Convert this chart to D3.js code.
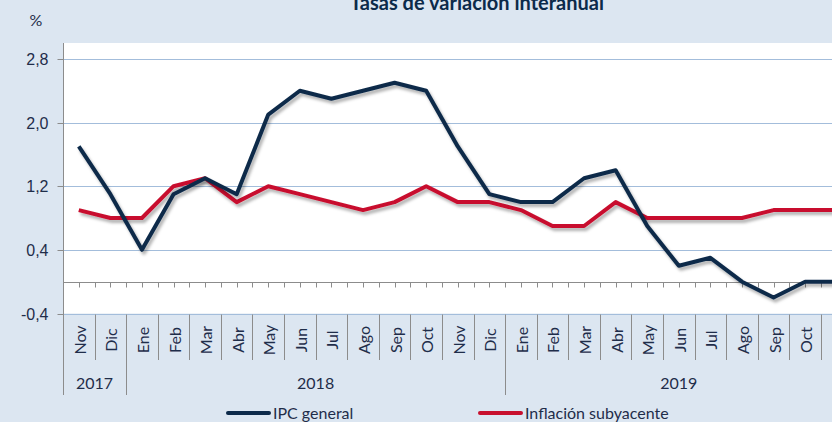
<!DOCTYPE html>
<html>
<head>
<meta charset="utf-8">
<script src="https://cdn.jsdelivr.net/npm/d3@7"></script>
<style>
  body { margin: 0; background: #dce6f1; }
  svg { display: block; font-family: Lato, "Open Sans", sans-serif; }
</style>
</head>
<body>
<div id="chart"></div>
<script>
// months Nov 2017 .. Nov 2019
const months = ['Nov','Dic','Ene','Feb','Mar','Abr','May','Jun','Jul','Ago','Sep','Oct','Nov','Dic',
  'Ene','Feb','Mar','Abr','May','Jun','Jul','Ago','Sep','Oct','Nov'];
const years = [{ label: '2017', n: 2 }, { label: '2018', n: 12 }, { label: '2019', n: 11 }];
const ipc = [1.7, 1.1, 0.4, 1.1, 1.3, 1.1, 2.1, 2.4, 2.3, 2.4, 2.5, 2.4, 1.7, 1.1,
  1.0, 1.0, 1.3, 1.4, 0.7, 0.2, 0.3, 0.0, -0.2, 0.0, 0.0];
const subyacente = [0.9, 0.8, 0.8, 1.2, 1.3, 1.0, 1.2, 1.1, 1.0, 0.9, 1.0, 1.2, 1.0, 1.0,
  0.9, 0.7, 0.7, 1.0, 0.8, 0.8, 0.8, 0.8, 0.9, 0.9, 0.9];
const yTicks = [-0.4, 0.4, 1.2, 2.0, 2.8];

const width = 832, height = 422;
const plotLeft = 63, plotRight = 852.5, plotTop = 43;
const textColor = '#1f2d4a';

const svg = d3.select('#chart').append('svg').attr('width', width).attr('height', height);

const defs = svg.append('defs');
defs.append('filter').attr('id', 'shadow').attr('x', '-5%').attr('y', '-5%').attr('width', '110%').attr('height', '120%')
  .append('feDropShadow').attr('dx', 2).attr('dy', 3).attr('stdDeviation', 1.5)
  .attr('flood-color', '#000').attr('flood-opacity', 0.3);

const x = d3.scaleBand().domain(d3.range(months.length)).range([plotLeft, plotRight]);
const y = d3.scaleLinear().domain([-0.4, 3.0]).range([313.5, plotTop]);
const bw = x.bandwidth();

// plot area
svg.append('rect').attr('x', plotLeft).attr('y', plotTop).attr('width', plotRight - plotLeft)
  .attr('height', y(-0.4) - plotTop).attr('fill', '#fff');

// gridlines
svg.append('g').selectAll('line').data(yTicks).join('line')
  .attr('x1', plotLeft).attr('x2', plotRight)
  .attr('y1', d => Math.round(y(d)) + 0.5).attr('y2', d => Math.round(y(d)) + 0.5)
  .attr('stroke', '#a3bddb').attr('stroke-width', 1.2);

// y axis
const yAxis = svg.append('g').attr('transform', `translate(${plotLeft + 0.5},0)`)
  .call(d3.axisLeft(y).tickValues(yTicks).tickSize(6).tickPadding(9)
    .tickFormat(d => d3.format('.1f')(d).replace('.', ',').replace('−', '-')));
yAxis.select('.domain').attr('stroke', '#8c8c8c').attr('d', `M0,${plotTop}V395`);
yAxis.selectAll('.tick line').attr('stroke', '#8c8c8c');
yAxis.selectAll('.tick text').attr('font-size', 16).attr('fill', textColor);
yAxis.selectAll('.tick').attr('transform', d => `translate(0,${Math.round(y(d)) + 0.5})`);

// zero line with minor ticks
const y0 = Math.round(y(0)) + 0.5;
svg.append('line').attr('x1', plotLeft).attr('x2', plotRight).attr('y1', y0).attr('y2', y0)
  .attr('stroke', '#8c8c8c').attr('stroke-width', 1.2);
const half = d3.range(1, months.length * 2).map(i => plotLeft + i * bw / 2);
svg.append('g').selectAll('line').data(half).join('line')
  .attr('x1', d => Math.round(d) + 0.5).attr('x2', d => Math.round(d) + 0.5)
  .attr('y1', y0).attr('y2', y0 + 5).attr('stroke', '#8c8c8c');

// category separators
const yb = Math.round(y(-0.4)) + 0.5;
let starts = [0];
years.forEach(g => starts.push(starts[starts.length - 1] + g.n));
const yearBounds = new Set(starts);
svg.append('g').selectAll('line').data(d3.range(1, months.length + 1)).join('line')
  .attr('x1', i => Math.round(plotLeft + i * bw) + 0.5).attr('x2', i => Math.round(plotLeft + i * bw) + 0.5)
  .attr('y1', yb).attr('y2', i => yearBounds.has(i) ? 395 : 360)
  .attr('stroke', '#8c8c8c');

// month labels
svg.append('g').selectAll('text').data(months).join('text')
  .attr('transform', (d, i) => `translate(${x(i) + bw / 2 + 7},340) rotate(-90)`)
  .attr('text-anchor', 'middle').attr('font-size', 16).attr('fill', textColor)
  .text(d => d);

// year labels
svg.append('g').selectAll('text').data(years).join('text')
  .attr('x', (d, i) => plotLeft + (starts[i] + d.n / 2) * bw).attr('y', 389)
  .attr('text-anchor', 'middle').attr('font-size', 16).attr('fill', textColor)
  .text(d => d.label);

// lines
const line = d3.line().x((d, i) => x(i) + bw / 2).y(d => y(d));
svg.append('path').datum(subyacente).attr('d', line).attr('fill', 'none')
  .attr('stroke', '#c8102e').attr('stroke-width', 4).attr('stroke-linejoin', 'round').attr('filter', 'url(#shadow)');
svg.append('path').datum(ipc).attr('d', line).attr('fill', 'none')
  .attr('stroke', '#0c2a4a').attr('stroke-width', 4).attr('stroke-linejoin', 'round').attr('filter', 'url(#shadow)');

// title and unit
svg.append('text').attr('x', 477).attr('y', 10).attr('text-anchor', 'middle')
  .attr('font-size', 20).attr('font-weight', 'bold').attr('fill', '#0c2a4a')
  .text('Tasas de variación interanual');
svg.append('text').attr('x', 36).attr('y', 26).attr('text-anchor', 'middle')
  .attr('font-size', 16).attr('fill', textColor).text('%');

// legend
const legend = [{ name: 'IPC general', color: '#0c2a4a', x: 228 }, { name: 'Inflación subyacente', color: '#c8102e', x: 480 }];
const lg = svg.append('g').selectAll('g').data(legend).join('g')
  .attr('transform', d => `translate(${d.x},413)`);
lg.append('line').attr('x1', 0).attr('x2', 41).attr('stroke', d => d.color).attr('stroke-width', 4).attr('stroke-linecap', 'round');
lg.append('text').attr('x', 45).attr('y', 6).attr('font-size', 16).attr('fill', textColor).text(d => d.name);
</script>
</body>
</html>
